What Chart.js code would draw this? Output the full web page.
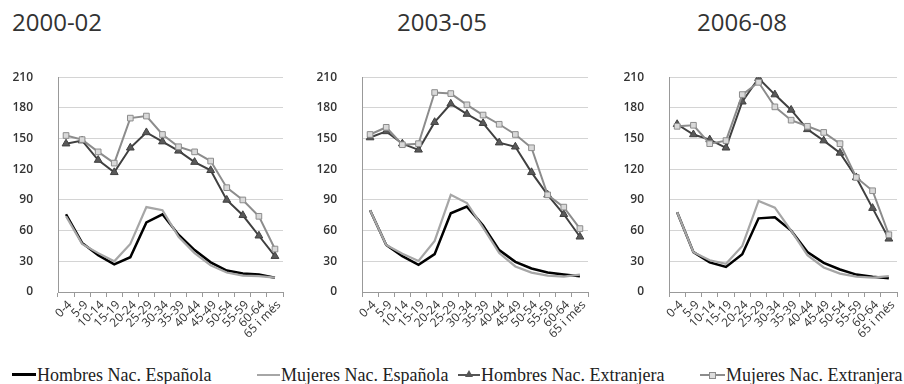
<!DOCTYPE html>
<html>
<head>
<meta charset="utf-8">
<script src="https://cdn.jsdelivr.net/npm/chart.js@4/dist/chart.umd.min.js"></script>
<style>
  html, body { margin: 0; padding: 0; background: #fff; }
  #page { position: relative; width: 904px; height: 384px; overflow: hidden; }
  .title { position: absolute; top: 6px; font-family: "Open Sans", sans-serif; font-size: 24px; color: #333; line-height: 32px; }
  .box { position: absolute; top: 45px; height: 300px; }
  .legend { position: absolute; top: 365px; font-family: "Liberation Serif", serif; font-size: 18px; color: #222; line-height: 20px; white-space: nowrap; }
  .mk { position: absolute; top: 10px; height: 0; }
  .ln { position: absolute; left: 0; right: 0; top: -1px; height: 2px; }
  .tri { position: absolute; top: -5px; left: 7px; width: 0; height: 0; border-left: 4px solid transparent; border-right: 4px solid transparent; border-bottom: 7px solid #555; }
  .sq { position: absolute; top: -3px; left: 9px; width: 5px; height: 5px; background: #ddd; border: 1px solid #8c8c8c; }
</style>
</head>
<body>
<div id="page">
  <div class="title" style="left:12px">2000-02</div>
  <div class="title" style="left:397px">2003-05</div>
  <div class="title" style="left:697px">2006-08</div>

  <div class="box" style="left:0px;width:290px"><canvas id="c1"></canvas></div>
  <div class="box" style="left:295px;width:300px"><canvas id="c2"></canvas></div>
  <div class="box" style="left:595px;width:309px"><canvas id="c3"></canvas></div>

  <div class="legend" style="left:12px;width:230px">
    <span class="mk" style="left:0;width:24px"><span class="ln" style="background:#000;height:3px;top:-2px"></span></span>
    <span style="position:absolute;left:25px">Hombres Nac. Española</span>
  </div>
  <div class="legend" style="left:257px;width:200px">
    <span class="mk" style="left:0;width:23px"><span class="ln" style="background:#a6a6a6"></span></span>
    <span style="position:absolute;left:24px">Mujeres Nac. Española</span>
  </div>
  <div class="legend" style="left:458px;width:220px">
    <span class="mk" style="left:0;width:22px"><span class="ln" style="background:#555"></span><span class="tri"></span></span>
    <span style="position:absolute;left:23px">Hombres Nac. Extranjera</span>
  </div>
  <div class="legend" style="left:700px;width:204px">
    <span class="mk" style="left:0;width:25px"><span class="ln" style="background:#8c8c8c"></span><span class="sq"></span></span>
    <span style="position:absolute;left:26px">Mujeres Nac. Extranjera</span>
  </div>
</div>

<script>
// Age groups on the category axis
const ageGroups = ['0-4','5-9','10-14','15-19','20-24','25-29','30-34','35-39','40-44','45-49','50-54','55-59','60-64','65 i més'];
const yTicks = [0, 30, 60, 90, 120, 150, 180, 210];

const seriesNames = ['Hombres Nac. Española', 'Mujeres Nac. Española', 'Hombres Nac. Extranjera', 'Mujeres Nac. Extranjera'];

// 2000-02
const hombresEsp_0002 = [76, 48, 36, 27, 34, 68, 76, 56, 41, 29, 21, 18, 17, 14];
const mujeresEsp_0002 = [74, 47, 38, 30, 47, 83, 80, 54, 38, 26, 19, 16, 15.5, 14];
const hombresExt_0002 = [145, 148, 129, 117, 141, 156, 147, 138, 127, 119, 90, 75, 55, 35];
const mujeresExt_0002 = [153, 149, 137, 126, 170, 172, 154, 142, 137, 128, 102, 90, 74, 42];

// 2003-05
const hombresEsp_0305 = [80, 46, 35, 26.5, 37, 77, 83.5, 65, 41, 29.5, 23, 19, 17, 15.3];
const mujeresEsp_0305 = [80, 46, 37.5, 30.4, 50, 95, 87, 63, 38, 25, 19, 16, 15, 17];
const hombresExt_0305 = [151, 157, 145, 139, 166, 184, 174, 165, 146, 142, 117, 95, 76, 54];
const mujeresExt_0305 = [154, 161, 144, 145, 195, 194, 183, 173, 164, 154, 141, 95, 83, 62];

// 2006-08
const hombresEsp_0608 = [78, 39, 29, 24.5, 37, 72, 73, 60, 39, 28.5, 22, 17, 15, 13.5];
const mujeresEsp_0608 = [78, 39, 31, 27.6, 45, 89, 82.5, 60, 36, 24, 18, 15, 14, 15.6];
const hombresExt_0608 = [164, 154, 149, 141, 186, 209, 193, 178, 159, 148, 136, 112, 82, 52];
const mujeresExt_0608 = [162, 163, 145, 148, 193, 205, 181, 168, 162, 156, 145, 112, 99, 56];

function makeDatasets(hEsp, mEsp, hExt, mExt) {
  return [
    { label: seriesNames[0], data: hEsp, borderColor: '#000', borderWidth: 2.5, pointRadius: 0, order: 4 },
    { label: seriesNames[1], data: mEsp, borderColor: '#a6a6a6', borderWidth: 2.2, pointRadius: 0, order: 3 },
    { label: seriesNames[2], data: hExt, borderColor: '#404040', borderWidth: 2, pointStyle: 'triangle',
      pointRadius: 4.5, pointBackgroundColor: '#595959', pointBorderColor: '#404040', pointBorderWidth: 1, order: 2 },
    { label: seriesNames[3], data: mExt, borderColor: '#8c8c8c', borderWidth: 2, pointStyle: 'rect',
      pointRadius: 4, pointBackgroundColor: '#d9d9d9', pointBorderColor: '#8c8c8c', pointBorderWidth: 1, order: 1 }
  ];
}

function makeChart(id, datasets, yAxisWidth) {
  return new Chart(document.getElementById(id), {
    type: 'line',
    data: { labels: ageGroups, datasets: datasets },
    options: {
      responsive: true,
      maintainAspectRatio: false,
      animation: false,
      events: [],
      elements: { line: { tension: 0, fill: false } },
      layout: { padding: { top: 14, right: 7, left: 0, bottom: 0 } },
      plugins: { legend: { display: false }, tooltip: { enabled: false } },
      scales: {
        x: {
          offset: true,
          afterFit: (s) => { s.height = 53; },
          grid: { offset: true, drawOnChartArea: false, drawTicks: true, tickLength: 5, color: '#999' },
          border: { color: '#999', width: 1 },
          ticks: {
            autoSkip: false, minRotation: 45, maxRotation: 45, padding: 1, labelOffset: 4,
            color: '#333', font: { family: 'Open Sans', size: 12 }
          }
        },
        y: {
          min: 0, max: 210,
          afterFit: (s) => { s.width = yAxisWidth; },
          afterBuildTicks: (s) => { s.ticks = yTicks.map(v => ({ value: v })); },
          grid: { color: '#d4d4d4', lineWidth: 1, drawTicks: false },
          border: { color: '#999', width: 1 },
          ticks: { padding: 25, color: '#333', font: { family: 'Open Sans', size: 12, weight: '600' } }
        }
      }
    }
  });
}

makeChart('c1', makeDatasets(hombresEsp_0002, mujeresEsp_0002, hombresExt_0002, mujeresExt_0002), 58);
makeChart('c2', makeDatasets(hombresEsp_0305, mujeresEsp_0305, hombresExt_0305, mujeresExt_0305), 67);
makeChart('c3', makeDatasets(hombresEsp_0608, mujeresEsp_0608, hombresExt_0608, mujeresExt_0608), 74);
</script>
</body>
</html>
